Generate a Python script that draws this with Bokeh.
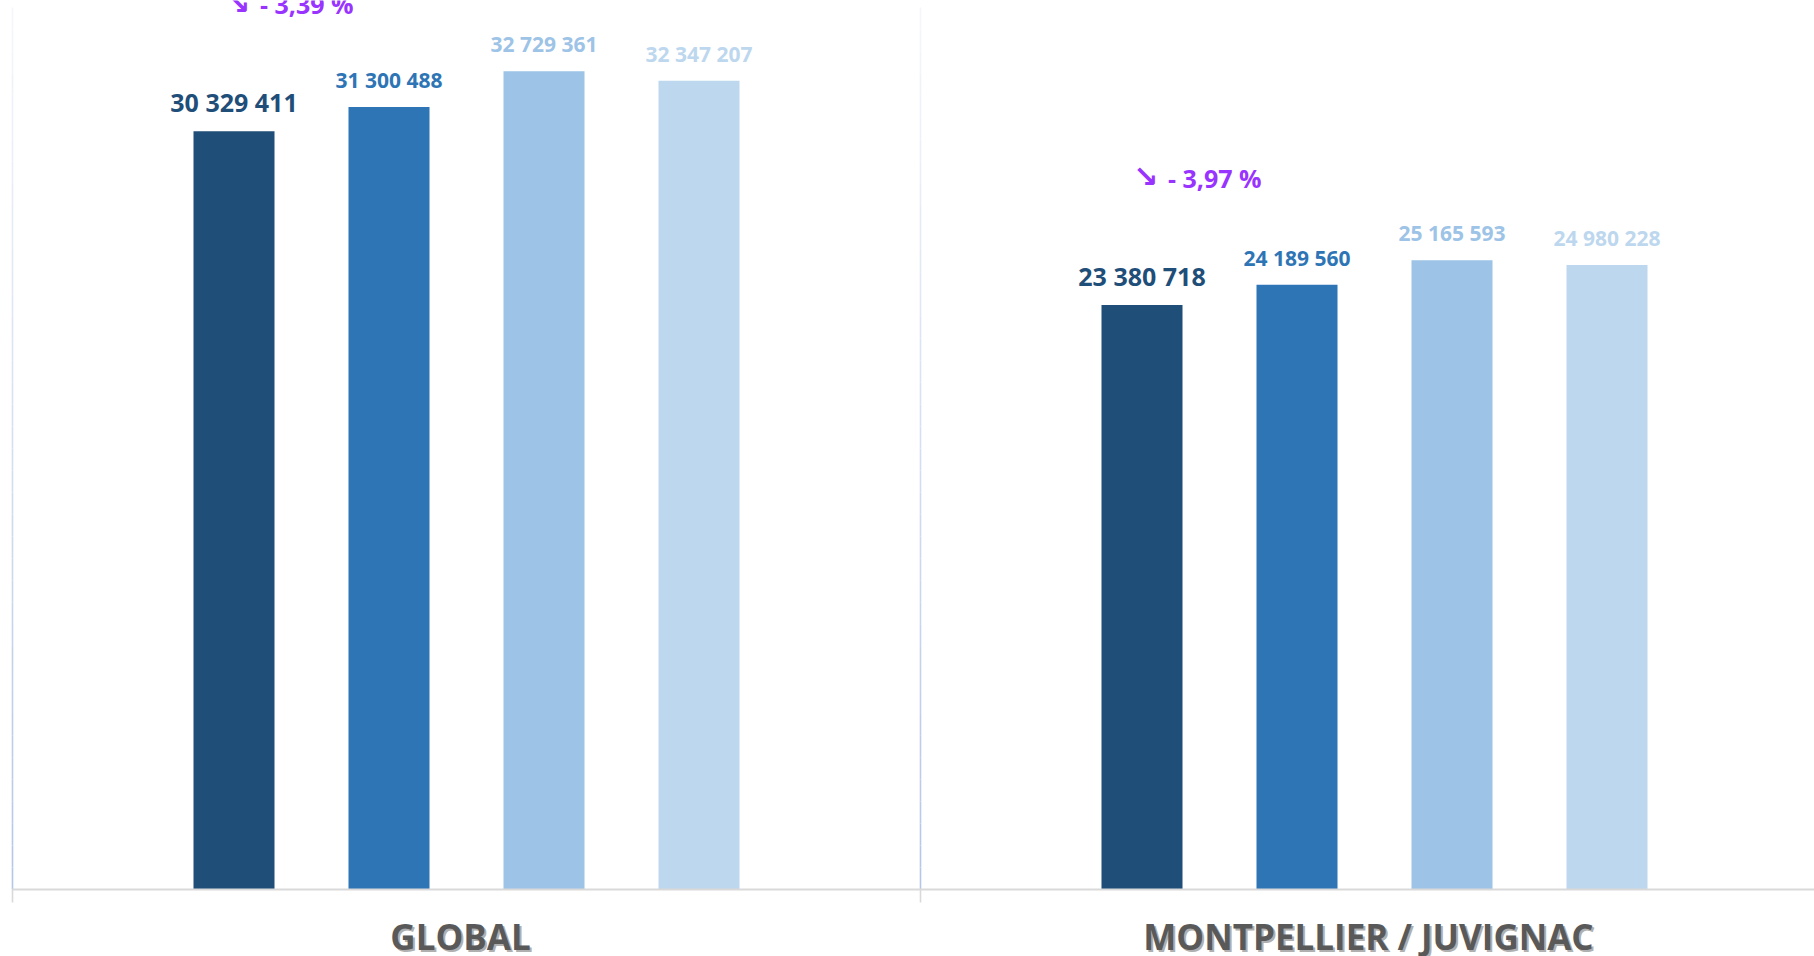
from bokeh.plotting import figure
from bokeh.models import Range1d
from bokeh.core.properties import value
from bokeh.embed import file_html
from bokeh.resources import INLINE

# ---- data ----
categories = ["GLOBAL", "MONTPELLIER / JUVIGNAC"]
serie_1 = [30329411, 23380718]
serie_2 = [31300488, 24189560]
serie_3 = [32729361, 25165593]
serie_4 = [32347207, 24980228]
variation_labels = ["\u2198 - 3,39 %", "\u2198 - 3,97 %"]

series = [serie_1, serie_2, serie_3, serie_4]
colors = ["#1f4e79", "#2e75b6", "#9dc3e6", "#bdd7ee"]
label_sizes = ["25px", "21px", "21px", "21px"]
label_offsets = [-29, -27, -27, -27]

# ---- layout (pixels) ----
W, H = 1814, 956
CAT_PX = 908.0          # width of one category in px
LEFT_PX = 12.0          # left separator position in px
BASE_PX = 889.0         # baseline y in px from top
PX_PER_UNIT = 25.0 / 1e6

x_start = -LEFT_PX / CAT_PX
x_end = (W - LEFT_PX) / CAT_PX
y_end = BASE_PX / PX_PER_UNIT
y_start = -(H - BASE_PX) / PX_PER_UNIT

p = figure(width=W, height=H, output_backend="svg", toolbar_location=None,
           x_range=Range1d(x_start, x_end), y_range=Range1d(y_start, y_end),
           min_border=0, min_border_left=0, min_border_right=0,
           min_border_top=0, min_border_bottom=0)
p.axis.visible = False
p.grid.visible = False
p.outline_line_color = None
p.background_fill_color = "white"
p.border_fill_color = "white"

# separators with a vertical gradient
def mix(c1, c2, t):
    a = [int(c1[i:i + 2], 16) for i in (1, 3, 5)]
    b = [int(c2[i:i + 2], 16) for i in (1, 3, 5)]
    return "#%02x%02x%02x" % tuple(round(a[k] + (b[k] - a[k]) * t) for k in range(3))

tick_bottom = -13 / PX_PER_UNIT
sep_top = (BASE_PX - 7) / PX_PER_UNIT
nseg = 40
bounds = list(range(len(categories) + 1))
for b in bounds:
    p.segment(x0=[b], x1=[b], y0=[tick_bottom], y1=[0], line_color="#d9d9d9", line_width=1.6)
    for k in range(nseg):
        y0 = sep_top * k / nseg
        y1 = sep_top * (k + 1) / nseg
        t = k / (nseg - 1)
        p.segment(x0=[b], x1=[b], y0=[y0], y1=[y1],
                  line_color=mix("#b4c7e7", "#f4f6fb", t), line_width=1.6)

# bars
n = len(series)
spacing = 155.0 / CAT_PX
bar_w = 81.0 / CAT_PX
for j, (vals, c) in enumerate(zip(series, colors)):
    off = (j - (n - 1) / 2) * spacing
    xs = [i + 0.5 + off for i in range(len(categories))]
    p.vbar(x=xs, top=vals, bottom=0, width=bar_w, fill_color=c, line_color=None)
    labels = [f"{v:,}".replace(",", " ") for v in vals]
    p.text(x=xs, y=vals, text=labels, text_align="center", text_baseline="middle",
           y_offset=label_offsets[j], text_font=value("Open Sans"), text_font_style="bold",
           text_font_size=label_sizes[j], text_color=c)

# baseline
p.segment(x0=[0], x1=[x_end], y0=[0], y1=[0], line_color="#d9d9d9", line_width=2.2)

# variation annotations (left aligned on first bar): arrow + value
off0 = -(n - 1) / 2 * spacing
xa = [i + 0.5 + off0 - 3 / CAT_PX for i in range(len(categories))]
arrows = [s[0] for s in variation_labels]
rest = [s[1:].strip() for s in variation_labels]
p.text(x=xa, y=serie_1, text=arrows, text_align="left", text_baseline="middle",
       x_offset=-6, y_offset=-128, text_font=value("DejaVu Sans"), text_font_style="bold",
       text_font_size="30px", text_color="#9933ff")
p.text(x=xa, y=serie_1, text=rest, text_align="left", text_baseline="middle",
       x_offset=29, y_offset=-127, text_font=value("Open Sans"), text_font_style="bold",
       text_font_size="25px", text_color="#9933ff")

# category labels with shadow
xc = [i + 0.5 for i in range(len(categories))]
yc = [0] * len(categories)
p.text(x=xc, y=yc, text=categories, text_align="center", text_baseline="middle",
       x_offset=-4, y_offset=49, text_font=value("Open Sans"), text_font_style="bold",
       text_font_size="35px", text_color="#b0b0b0")
p.text(x=xc, y=yc, text=categories, text_align="center", text_baseline="middle",
       x_offset=-6, y_offset=47, text_font=value("Open Sans"), text_font_style="bold",
       text_font_size="35px", text_color="#595959")

open("out.html", "w").write(file_html(p, INLINE))
